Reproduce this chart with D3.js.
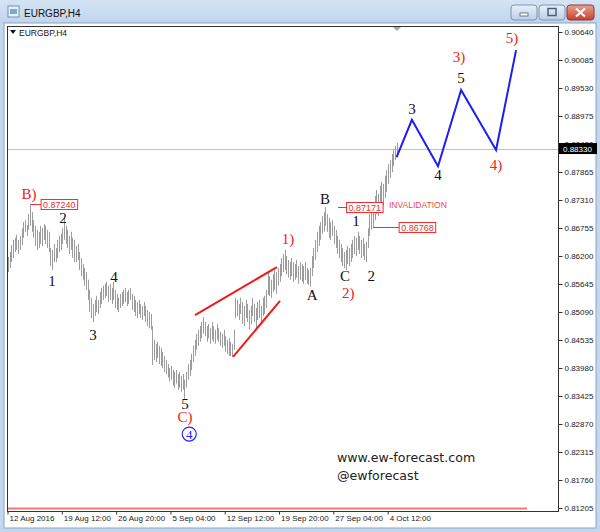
<!DOCTYPE html>
<html><head><meta charset="utf-8">
<script src="https://cdn.jsdelivr.net/npm/d3@7"></script>
<style>body{margin:0;background:#c3d7ee;} svg{display:block}</style>
</head><body><svg id="c" width="600" height="532"></svg>
<script>
// ---- data (EURGBP H4) ----
const highs = [
0.8618,0.8628,0.8642,0.8652,0.8656,0.8662,0.8652,0.8660,0.8675,0.8687,
0.8691,0.8681,0.8703,0.8724,0.8707,0.8691,0.8680,0.8672,0.8668,0.8680,
0.8675,0.8683,0.8680,0.8672,0.8668,0.8636,0.8632,0.8644,0.8636,0.8652,
0.8660,0.8664,0.8675,0.8695,0.8680,0.8672,0.8660,0.8668,0.8656,0.8652,
0.8640,0.8644,0.8628,0.8616,0.8604,0.8596,0.8588,0.8573,0.8553,0.8537,
0.8525,0.8533,0.8541,0.8533,0.8549,0.8557,0.8561,0.8565,0.8569,0.8561,
0.8565,0.8557,0.8569,0.8553,0.8545,0.8537,0.8545,0.8549,0.8553,0.8557,
0.8549,0.8553,0.8557,0.8545,0.8541,0.8533,0.8529,0.8533,0.8525,0.8521,
0.8529,0.8521,0.8513,0.8509,0.8505,0.8481,0.8454,0.8446,0.8450,0.8442,
0.8438,0.8430,0.8422,0.8414,0.8406,0.8398,0.8402,0.8394,0.8390,0.8394,
0.8386,0.8390,0.8382,0.8386,0.8375,0.8390,0.8406,0.8414,0.8426,0.8442,
0.8454,0.8466,0.8474,0.8481,0.8489,0.8499,0.8489,0.8481,0.8485,0.8477,
0.8489,0.8481,0.8474,0.8485,0.8477,0.8470,0.8466,0.8474,0.8461,0.8454,
0.8457,0.8450,0.8446,0.8474,0.8537,0.8533,0.8525,0.8537,0.8529,0.8521,
0.8533,0.8525,0.8513,0.8521,0.8537,0.8525,0.8517,0.8529,0.8533,0.8521,
0.8537,0.8541,0.8553,0.8588,0.8580,0.8573,0.8584,0.8592,0.8588,0.8596,
0.8604,0.8616,0.8624,0.8632,0.8620,0.8612,0.8608,0.8616,0.8608,0.8604,
0.8612,0.8600,0.8608,0.8604,0.8600,0.8608,0.8596,0.8592,0.8596,0.8620,
0.8636,0.8652,0.8668,0.8680,0.8687,0.8699,0.8707,0.8717,0.8703,0.8695,
0.8687,0.8691,0.8680,0.8672,0.8660,0.8652,0.8644,0.8636,0.8628,0.8632,
0.8640,0.8636,0.8644,0.8652,0.8660,0.8656,0.8668,0.8660,0.8652,0.8656,
0.8644,0.8648,0.8675,0.8703,0.8715,0.8723,0.8739,0.8751,0.8743,0.8759,
0.8767,0.8763,0.8779,0.8790,0.8802,0.8810,0.8822,0.8830,0.8838,0.8844];
const lows = [
0.8588,0.8596,0.8608,0.8616,0.8628,0.8632,0.8624,0.8632,0.8642,0.8656,
0.8668,0.8660,0.8672,0.8680,0.8668,0.8656,0.8640,0.8632,0.8636,0.8644,
0.8640,0.8652,0.8644,0.8636,0.8628,0.8600,0.8592,0.8608,0.8608,0.8616,
0.8628,0.8632,0.8644,0.8652,0.8644,0.8636,0.8624,0.8632,0.8616,0.8608,
0.8608,0.8612,0.8592,0.8580,0.8573,0.8561,0.8553,0.8533,0.8509,0.8497,
0.8489,0.8501,0.8509,0.8505,0.8517,0.8525,0.8533,0.8537,0.8541,0.8529,
0.8533,0.8525,0.8533,0.8517,0.8513,0.8509,0.8517,0.8521,0.8525,0.8529,
0.8521,0.8525,0.8533,0.8513,0.8509,0.8501,0.8497,0.8505,0.8497,0.8493,
0.8501,0.8489,0.8481,0.8477,0.8474,0.8404,0.8414,0.8410,0.8418,0.8406,
0.8402,0.8398,0.8390,0.8386,0.8379,0.8371,0.8375,0.8363,0.8359,0.8367,
0.8355,0.8359,0.8351,0.8355,0.8337,0.8359,0.8375,0.8382,0.8394,0.8410,
0.8422,0.8434,0.8442,0.8450,0.8457,0.8466,0.8461,0.8450,0.8457,0.8446,
0.8454,0.8450,0.8446,0.8454,0.8450,0.8442,0.8438,0.8442,0.8430,0.8426,
0.8422,0.8422,0.8420,0.8434,0.8497,0.8501,0.8493,0.8505,0.8485,0.8481,
0.8497,0.8489,0.8474,0.8485,0.8501,0.8489,0.8477,0.8493,0.8497,0.8485,
0.8501,0.8505,0.8517,0.8543,0.8541,0.8537,0.8549,0.8553,0.8545,0.8561,
0.8569,0.8580,0.8588,0.8592,0.8584,0.8577,0.8573,0.8580,0.8569,0.8573,
0.8577,0.8565,0.8573,0.8569,0.8565,0.8573,0.8565,0.8563,0.8559,0.8580,
0.8596,0.8612,0.8628,0.8640,0.8652,0.8664,0.8668,0.8680,0.8668,0.8656,
0.8652,0.8660,0.8644,0.8636,0.8624,0.8616,0.8608,0.8600,0.8596,0.8592,
0.8604,0.8600,0.8608,0.8616,0.8624,0.8620,0.8632,0.8624,0.8616,0.8620,
0.8612,0.8608,0.8636,0.8660,0.8672,0.86768,0.8691,0.8703,0.8699,0.8715,
0.8723,0.8719,0.8735,0.8747,0.8763,0.8775,0.8786,0.8798,0.8810,0.8816];
const priceTicks = [0.90640,0.90085,0.89530,0.88975,0.88420,0.87865,0.87310,0.86755,0.86200,
  0.85645,0.85090,0.84535,0.83980,0.83425,0.82870,0.82315,0.81760,0.81205];
const timeTickIndex = [0,32,64,96,128,160,192,224];
const timeTickLabels = ["12 Aug 2016","19 Aug 12:00","26 Aug 20:00","5 Sep 04:00",
  "12 Sep 12:00","19 Sep 20:00","27 Sep 04:00","4 Oct 12:00"];
const lastPrice = 0.88330;
const forecastIdx = [229,238,253.4,267,287.6,299.4];
const forecastPrice = [0.8816,0.8890,0.8798,0.8949,0.8830,0.9028];
const wedgeUpper = [[110.2,0.8503],[158.5,0.8598]];
const wedgeLower = [[132.6,0.8420],[160.3,0.8531]];
const waveBlack = [["2",32.4,0.8695],["1",25.9,0.8571],["3",50.1,0.8464],["4",62.5,0.8579],
  ["5",104.3,0.8327],["A",179.2,0.8543],["B",186.8,0.8733],["C",198.6,0.8580],["1",205,0.8689],
  ["2",214,0.8580],["3",238,0.8911],["4",253.4,0.8780],["5",267,0.8972]];
const waveRed = [["B)",12.4,0.8743],["C)",104.3,0.8301],["1)",165,0.8654],["2)",200.5,0.8547],
  ["3)",265.8,0.9015],["4)",287.6,0.8800],["5)",297,0.9052]];
const levels = [[0.87240,13.5,19.5],[0.87171,194.5,199.5],[0.86768,215,230.5]];

// ---- drawing ----
const svg = d3.select("#c");
const W=600,H=532;
const L=7,R=558,T=26,B=511;
const x = d3.scaleLinear().domain([0,324]).range([8,8+324*1.697]);
const y = d3.scaleLinear().domain([0.81205,0.90640]).range([508,32]);

// window frame
const defs = svg.append("defs");
const tg = defs.append("linearGradient").attr("id","tb").attr("x1",0).attr("x2",0).attr("y1",0).attr("y2",1);
tg.append("stop").attr("offset","0").attr("stop-color","#d5e4f4");
tg.append("stop").attr("offset","1").attr("stop-color","#bfd4ec");
svg.append("rect").attr("width",W).attr("height",H).attr("fill","#c3d7ee");
svg.append("rect").attr("width",W).attr("height",23).attr("fill","url(#tb)");
// title icon
svg.append("rect").attr("x",8).attr("y",6).attr("width",11).attr("height",11).attr("fill","#e9f1fa").attr("stroke","#6d8fb8");
svg.append("rect").attr("x",10).attr("y",9).attr("width",7).attr("height",5).attr("fill","#7da7d6");
svg.append("text").attr("x",24).attr("y",16.5).attr("font-family","Liberation Sans, Arial, sans-serif")
  .attr("font-size",10).attr("fill","#111").text("EURGBP,H4");
// buttons
const bg = defs.append("linearGradient").attr("id","bt").attr("x1",0).attr("x2",0).attr("y1",0).attr("y2",1);
bg.append("stop").attr("offset","0").attr("stop-color","#e8f0f9");
bg.append("stop").attr("offset","1").attr("stop-color","#bccfe6");
const cg = defs.append("linearGradient").attr("id","cl").attr("x1",0).attr("x2",0).attr("y1",0).attr("y2",1);
cg.append("stop").attr("offset","0").attr("stop-color","#e8a294");
cg.append("stop").attr("offset","1").attr("stop-color","#c7402c");
svg.append("rect").attr("x",511).attr("y",5).attr("width",26).attr("height",15).attr("rx",3).attr("fill","url(#bt)").attr("stroke","#7f94b3");
svg.append("rect").attr("x",520).attr("y",13).attr("width",8).attr("height",3).attr("fill","#fff").attr("stroke","#4a5e7c").attr("stroke-width",0.8);
svg.append("rect").attr("x",539).attr("y",5).attr("width",26).attr("height",15).attr("rx",3).attr("fill","url(#bt)").attr("stroke","#7f94b3");
svg.append("rect").attr("x",548).attr("y",8.5).attr("width",8).attr("height",7).attr("fill","none").attr("stroke","#4a5e7c").attr("stroke-width",1.5);
svg.append("rect").attr("x",567).attr("y",5).attr("width",27).attr("height",15).attr("rx",3).attr("fill","url(#cl)").attr("stroke","#8a3a30");
svg.append("path").attr("d","M576,8.5 L585,16.5 M585,8.5 L576,16.5").attr("stroke","#fff").attr("stroke-width",2.2);
// white panel
svg.append("rect").attr("x",4).attr("y",23).attr("width",592).attr("height",505).attr("fill","#fff").attr("stroke","#8ea4c0");
// plot frame
svg.append("rect").attr("x",L+0.5).attr("y",T+0.5).attr("width",R-L).attr("height",B-T).attr("fill","#fff").attr("stroke","#333");

// red bottom line
svg.append("line").attr("x1",8).attr("x2",527).attr("y1",508.5).attr("y2",508.5).attr("stroke","#f07a7a").attr("stroke-width",2);

// last price line
svg.append("line").attr("x1",L+1).attr("x2",R).attr("y1",Math.round(y(lastPrice))+0.5).attr("y2",Math.round(y(lastPrice))+0.5)
  .attr("stroke","#c0c0c0").attr("stroke-width",1);

// bars
svg.append("g").selectAll("line").data(highs).join("line")
  .attr("x1",(d,i)=>Math.round(x(i))+0.5).attr("x2",(d,i)=>Math.round(x(i))+0.5)
  .attr("y1",d=>y(d)).attr("y2",(d,i)=>y(lows[i]))
  .attr("stroke","#9c9c9c").attr("stroke-width",1);

// shift marker
const sx = Math.round(x(highs.length-1));
svg.append("path").attr("d",`M${sx-4},27 L${sx+4},27 L${sx},31 Z`).attr("fill","#a8a8a8");

// symbol label inside
svg.append("path").attr("d","M10,30 L16,30 L13,34 Z").attr("fill","#111");
svg.append("text").attr("x",19).attr("y",35.5).attr("font-family","Liberation Sans, Arial, sans-serif")
  .attr("font-size",8.5).attr("fill","#111").text("EURGBP,H4");

// axes
const ya = svg.append("g").attr("transform",`translate(${R+0.5},0)`)
  .call(d3.axisRight(y).tickValues(priceTicks).tickFormat(d3.format(".5f")).tickSize(4).tickPadding(2));
ya.select(".domain").attr("stroke","#333").attr("d",`M0,${T}V${B}`);
ya.selectAll(".tick line").attr("stroke","#333");
ya.selectAll("text").attr("font-family","Liberation Sans, Arial, sans-serif").attr("font-size",8).attr("fill","#222");
const xa = svg.append("g").attr("transform",`translate(0,${B+0.5})`)
  .call(d3.axisBottom(x).tickValues(timeTickIndex).tickFormat((d,i)=>timeTickLabels[i]).tickSize(3).tickPadding(1));
xa.select(".domain").remove();
xa.selectAll(".tick line").attr("stroke","#333").attr("transform","translate(-0.5,0)");
xa.selectAll("text").attr("text-anchor","start").attr("dx",1).attr("font-family","Liberation Sans, Arial, sans-serif")
  .attr("font-size",8).attr("fill","#222");

// last price box
const ly = y(lastPrice);
svg.append("rect").attr("x",R+1).attr("y",ly-5.5).attr("width",38).attr("height",11).attr("fill","#000");
svg.append("text").attr("x",R+5).attr("y",ly+3).attr("font-family","Liberation Sans, Arial, sans-serif")
  .attr("font-size",8).attr("fill","#fff").text(d3.format(".5f")(lastPrice));

// wedge lines
const lineGen = d3.line().x(d=>x(d[0])).y(d=>y(d[1]));
svg.append("path").attr("d",lineGen(wedgeUpper)).attr("stroke","#f01818").attr("stroke-width",2).attr("fill","none");
svg.append("path").attr("d",lineGen(wedgeLower)).attr("stroke","#f01818").attr("stroke-width",2).attr("fill","none");

// forecast
svg.append("path").attr("d",lineGen(forecastIdx.map((d,i)=>[d,forecastPrice[i]])))
  .attr("stroke","#1c1cf5").attr("stroke-width",2).attr("fill","none");

// level labels
const lg = svg.append("g");
levels.forEach(([p,i0,i1])=>{
  const yy = Math.round(y(p))+0.5;
  lg.append("line").attr("x1",x(i0)).attr("x2",x(i1)).attr("y1",yy).attr("y2",yy).attr("stroke","#f03030");
  const t = lg.append("text").attr("x",x(i1)+2).attr("y",yy+3.2).attr("font-family","Liberation Sans, Arial, sans-serif")
    .attr("font-size",9).attr("fill","#f03030").text(d3.format(".5f")(p));
  const w = t.node().getComputedTextLength();
  lg.insert("rect","text").attr("x",x(i1)).attr("y",yy-5).attr("width",w+4).attr("height",10)
    .attr("fill","#fff").attr("stroke","#f03030");
});
svg.append("text").attr("x",389).attr("y",208).attr("font-family","Liberation Sans, Arial, sans-serif")
  .attr("font-size",8.5).attr("fill","#f04848").text("INVALIDATION");

// wave labels
const serif = "Liberation Serif, Times New Roman, serif";
svg.append("g").selectAll("text").data(waveBlack).join("text")
  .attr("x",d=>x(d[1])).attr("y",d=>y(d[2])+5).attr("text-anchor","middle")
  .attr("font-family",serif).attr("font-size",15).attr("fill","#111").text(d=>d[0]);
svg.append("g").selectAll("text").data(waveRed).join("text")
  .attr("x",d=>x(d[1])).attr("y",d=>y(d[2])+5).attr("text-anchor","middle")
  .attr("font-family",serif).attr("font-size",15).attr("fill","#f02020").text(d=>d[0]);
// circled 4
const cx = x(106.8), cy = y(0.8267);
svg.append("circle").attr("cx",cx).attr("cy",cy).attr("r",7).attr("fill","none").attr("stroke","#2626ff").attr("stroke-width",1.2);
svg.append("text").attr("x",cx).attr("y",cy+4.5).attr("text-anchor","middle").attr("font-family",serif)
  .attr("font-size",13).attr("fill","#2626ff").text("4");

// watermark
svg.append("text").attr("x",337).attr("y",462).attr("font-family","DejaVu Sans, Verdana, sans-serif")
  .attr("font-size",12.6).attr("fill","#222").text("www.ew-forecast.com");
svg.append("text").attr("x",337).attr("y",480).attr("font-family","DejaVu Sans, Verdana, sans-serif")
  .attr("font-size",12.6).attr("fill","#222").text("@ewforecast");
</script></body></html>
